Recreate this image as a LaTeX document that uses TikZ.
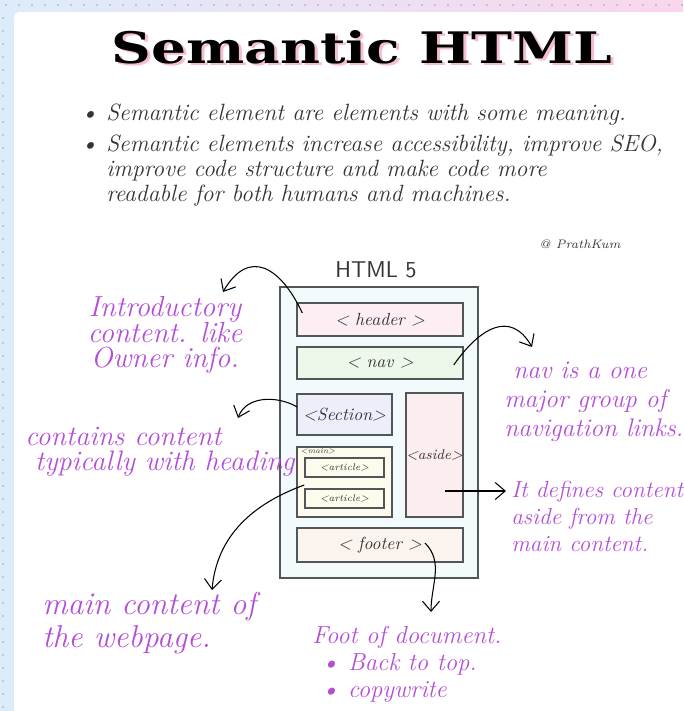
\documentclass[tikz,border=0pt]{standalone}
\usepackage{fontspec}
\usetikzlibrary{arrows.meta}
\newfontfamily\titlefont{DejaVu Serif}
\definecolor{purp}{RGB}{181,78,214}
\definecolor{ink}{RGB}{52,52,52}
\definecolor{frame}{RGB}{80,86,90}
\definecolor{hdrfill}{RGB}{252,238,243}
\definecolor{navfill}{RGB}{238,248,234}
\definecolor{secfill}{RGB}{236,238,250}
\definecolor{asdfill}{RGB}{252,238,238}
\definecolor{mainfill}{RGB}{253,252,236}
\definecolor{footfill}{RGB}{251,243,238}
\definecolor{pagefill}{RGB}{243,250,252}
\definecolor{stripblue}{RGB}{221,236,251}
\definecolor{stripedge}{RGB}{249,214,236}
\definecolor{titlepink}{RGB}{246,188,210}
\setlength{\lineskiplimit}{-100pt}
\begin{document}
\begin{tikzpicture}[x=0.2mm,y=0.2mm]
\tikzstyle{every node}+=[inner sep=0pt]
\tikzstyle{tag}=[draw=frame,line width=0.8pt,text=ink,font=\itshape\fontsize{10}{12}\selectfont]
\tikzstyle{note}=[text=purp,align=left,anchor=north west]
\tikzstyle{bullet}=[text=ink,align=left,anchor=north west,font=\itshape\fontsize{13.4}{14}\selectfont]
\tikzstyle{link}=[line width=0.6pt,-{Straight Barb[length=2mm,width=3.4mm]}]
\clip (0,0) rectangle (683,-711);
\useasboundingbox (0,0) rectangle (683,-711);
\fill [stripblue] (0,0) rectangle (683,-711);
\shade [left color=stripblue,right color=stripedge] (0,0) rectangle (683,-12);
\foreach \x in {6,19,...,683} \fill [gray!70] (\x,-5) circle (0.8);
\foreach \y in {18,31,...,711} \fill [gray!70] (3,-\y) circle (0.8);
\fill [white,rounded corners=3pt] (14,-12) -- (700,-12) -- (700,-730) -- (14,-730) -- cycle;
\node [text=titlepink] (titleshade) at (365,-49.5) {\resizebox{100mm}{6.6mm}{\titlefont\bfseries Semantic HTML}};
\node (title) at (362,-47) {\resizebox{100mm}{6.6mm}{\titlefont\bfseries Semantic HTML}};
\node [bullet] (point1) at (80,-104) {\textbullet\ Semantic element are elements with some meaning.};
\node [bullet] (point2) at (80,-135) {\textbullet\ Semantic elements increase accessibility, improve SEO,\\
\phantom{\textbullet\ }improve code structure and make code more\\
\phantom{\textbullet\ }readable for both humans and machines.};
\node [text=ink,font=\itshape\fontsize{7}{8}\selectfont] (credit) at (580,-244) {@ PrathKum};
\node [text=ink,font=\sffamily\fontsize{13}{14}\selectfont] (html) at (376,-270) {HTML 5};
\node [tag,fill=pagefill,minimum width=39.6mm,minimum height=58.2mm] (page) at (379,-432.5) {};
\node [tag,fill=hdrfill,minimum width=33.2mm,minimum height=6.6mm] (header) at (380,-319.5) {\textless\ header \textgreater};
\node [tag,fill=navfill,minimum width=33.2mm,minimum height=6.4mm] (nav) at (380,-363) {\textless\ nav \textgreater};
\node [tag,fill=secfill,minimum width=19mm,minimum height=8.2mm] (section) at (344.5,-414.5) {\textless Section\textgreater};
\node [tag,fill=asdfill,minimum width=11.4mm,minimum height=24.8mm,font=\itshape\fontsize{8}{10}\selectfont] (aside) at (434.5,-455) {\textless aside\textgreater};
\node [tag,fill=mainfill,minimum width=19mm,minimum height=14mm] (main) at (344.5,-482) {};
\node [text=ink,font=\itshape\fontsize{4.5}{5}\selectfont] (mainlabel) at (318,-451) {\textless main\textgreater};
\node [tag,fill=mainfill,minimum width=15.8mm,minimum height=3.8mm,font=\itshape\fontsize{5.5}{6}\selectfont] (article1) at (344.5,-467.5) {\textless article\textgreater};
\node [tag,fill=mainfill,minimum width=15.8mm,minimum height=3.8mm,font=\itshape\fontsize{5.5}{6}\selectfont] (article2) at (344.5,-498.5) {\textless article\textgreater};
\node [tag,fill=footfill,minimum width=33.2mm,minimum height=6.8mm] (footer) at (380,-545) {\textless\ footer \textgreater};
\node [note,align=center,anchor=north,font=\itshape\fontsize{16.5}{14.6}\selectfont] (intronote) at (165,-296) {Introductory\\content. like\\Owner info.};
\node [note,font=\itshape\fontsize{16}{14.2}\selectfont] (secnote) at (25,-427) {contains content\\\ typically with heading};
\node [note,font=\itshape\fontsize{18}{18.8}\selectfont] (mainnote) at (42,-592) {main content of\\the webpage.};
\node [note,font=\itshape\fontsize{14}{15.4}\selectfont] (footnote) at (312,-626) {Foot of document.\\\ \textbullet\ Back to top.\\\ \textbullet\ copywrite};
\node [note,font=\itshape\fontsize{14.5}{16.5}\selectfont] (navnote) at (504,-362) {\ nav is a one\\major group of\\navigation links.};
\node [note,font=\itshape\fontsize{13.2}{15.4}\selectfont] (asidenote) at (511,-481) {It defines content\\aside from the\\main content.};
\coordinate (introtip) at (223,-292);
\coordinate (navtip) at (532,-347);
\coordinate (sectip) at (238,-418);
\coordinate (maintip) at (212,-590);
\coordinate (asidetip) at (506,-491);
\coordinate (foottip) at (431,-612);
\draw [link] ([shift={(6,6.5)}]header.west) to[out=115,in=60,looseness=1.6] (introtip);
\draw [link] ([shift={(-10,-2)}]nav.east) to[out=55,in=120,looseness=1.4] (navtip);
\draw [link] ([shift={(1,7.5)}]section.west) to[out=150,in=70] (sectip);
\draw [link] ([shift={(8,-3)}]main.west) to[out=200,in=85] (maintip);
\draw [link] ([shift={(10.5,-36)}]aside.center) -- (asidetip);
\draw [link] ([shift={(45,2)}]footer.center) to[out=-45,in=90] (foottip);
\end{tikzpicture}
\end{document}
